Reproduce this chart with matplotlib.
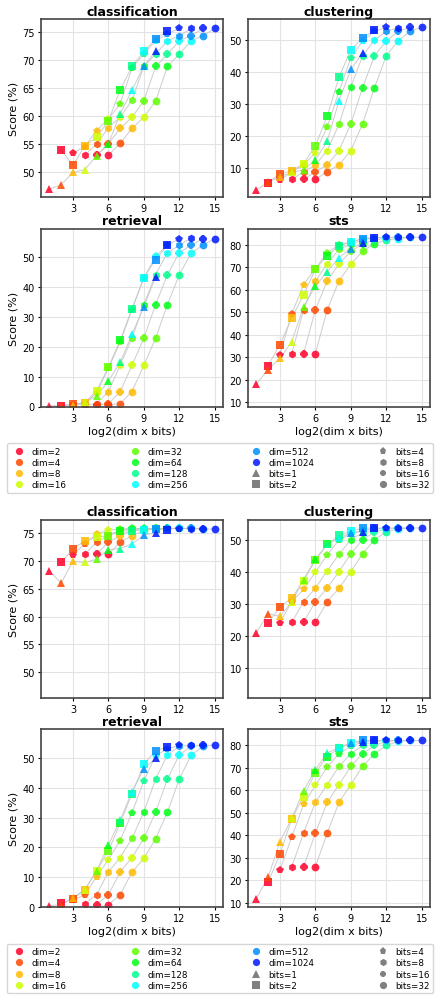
import matplotlib.pyplot as plt
from matplotlib.lines import Line2D
import numpy as np

dims = [2, 4, 8, 16, 32, 64, 128, 256, 512, 1024]
bits = [1, 2, 4, 8, 16, 32]
bit_markers = ['^', 's', 'p', 'h', '8', 'o']
tasks = ['classification', 'clustering', 'retrieval', 'sts']
ylims = {'classification': (45.5, 77.4), 'clustering': (0.8, 56.5),
         'retrieval': (0, 59.7), 'sts': (8.2, 87.3)}

# one row per dim, one column per bits (1, 2, 4, 8, 16, 32)
cls_top = [[46.9, 54.0, 53.4, 53.0, 53.0, 53.0],
           [47.7, 51.2, 54.5, 55.0, 55.0, 55.1],
           [49.9, 54.6, 57.4, 57.9, 57.8, 57.8],
           [50.4, 56.2, 59.5, 59.8, 59.8, 59.8],
           [52.9, 59.1, 62.2, 62.8, 62.7, 62.7],
           [55.0, 64.7, 68.6, 68.9, 68.9, 68.9],
           [60.4, 68.9, 71.1, 71.1, 71.1, 71.1],
           [64.6, 71.6, 73.5, 73.5, 73.5, 73.5],
           [69.0, 73.8, 74.7, 74.4, 74.4, 74.4],
           [71.6, 75.3, 75.8, 75.7, 75.7, 75.7]]
clu_top = [[3.0, 5.3, 6.0, 6.3, 6.3, 6.3],
           [5.4, 8.0, 8.7, 8.7, 8.7, 8.7],
           [7.2, 9.0, 10.8, 10.8, 10.8, 10.8],
           [8.5, 11.2, 14.7, 15.3, 15.3, 15.3],
           [9.3, 16.8, 22.7, 23.5, 23.7, 23.7],
           [12.4, 26.0, 33.8, 35.2, 35.0, 35.0],
           [18.2, 38.3, 44.3, 45.0, 45.0, 45.0],
           [30.9, 46.8, 49.6, 49.9, 49.6, 49.6],
           [40.7, 50.5, 52.6, 52.6, 52.6, 52.6],
           [45.9, 53.0, 53.9, 53.8, 53.9, 54.0]]
ret_top = [[0.2, 0.3, 0.4, 0.5, 0.5, 0.6],
           [0.3, 0.8, 0.9, 0.9, 0.9, 1.0],
           [0.6, 1.2, 4.6, 5.0, 5.0, 5.0],
           [1.5, 5.3, 12.8, 13.8, 13.8, 13.8],
           [3.4, 13.1, 21.5, 22.9, 22.9, 22.9],
           [8.5, 22.2, 32.5, 34.2, 34.2, 34.2],
           [14.8, 32.8, 43.0, 44.2, 44.2, 44.2],
           [24.2, 43.2, 50.5, 51.6, 51.6, 51.4],
           [33.4, 49.3, 54.1, 54.1, 54.1, 54.1],
           [43.5, 54.0, 56.3, 56.5, 56.3, 56.3]]
sts_top = [[18.1, 26.4, 31.0, 31.7, 31.7, 31.7],
           [24.6, 35.7, 49.4, 51.1, 51.1, 51.1],
           [29.6, 47.6, 62.3, 64.0, 64.0, 64.0],
           [37.0, 57.8, 69.5, 71.5, 71.5, 71.5],
           [52.6, 69.2, 76.6, 78.1, 77.2, 77.2],
           [61.6, 75.1, 79.9, 80.2, 80.4, 80.6],
           [68.1, 79.6, 81.3, 82.3, 82.3, 82.2],
           [74.4, 81.3, 82.7, 83.0, 82.9, 82.8],
           [78.4, 82.8, 83.3, 83.4, 83.4, 83.4],
           [81.0, 83.2, 83.4, 83.4, 83.4, 83.4]]

cls_bot = [[68.2, 69.7, 71.1, 71.2, 71.2, 71.2],
           [66.0, 72.1, 73.0, 73.3, 73.3, 73.3],
           [69.9, 73.6, 74.8, 74.6, 74.5, 74.5],
           [69.7, 74.2, 75.5, 75.5, 75.5, 75.5],
           [70.3, 74.5, 75.7, 75.7, 75.7, 75.7],
           [72.0, 75.3, 75.8, 75.8, 75.8, 75.8],
           [72.2, 75.4, 75.8, 75.8, 75.8, 75.8],
           [73.0, 75.5, 75.7, 75.8, 75.8, 75.8],
           [74.6, 75.7, 75.8, 75.8, 75.8, 75.7],
           [75.0, 75.6, 75.7, 75.7, 75.7, 75.7]]
clu_bot = [[21.1, 24.1, 24.2, 24.3, 24.3, 24.3],
           [27.0, 29.1, 30.8, 30.8, 30.8, 30.8],
           [26.2, 31.9, 34.6, 35.0, 35.0, 35.0],
           [30.7, 37.4, 40.0, 40.4, 40.2, 40.2],
           [37.6, 43.7, 45.4, 45.6, 45.8, 45.8],
           [44.1, 48.7, 50.2, 50.2, 50.2, 50.2],
           [48.7, 51.5, 52.0, 52.4, 52.6, 52.6],
           [50.7, 52.8, 53.2, 53.4, 53.5, 53.6],
           [52.3, 53.8, 53.7, 53.8, 53.8, 53.8],
           [52.7, 53.8, 53.9, 53.9, 53.9, 53.9]]
ret_bot = [[0.5, 1.2, 2.3, 1.1, 0.8, 0.8],
           [0.8, 2.8, 4.0, 4.1, 4.1, 4.1],
           [3.0, 5.7, 10.2, 11.7, 11.7, 11.7],
           [5.8, 12.1, 15.8, 16.6, 16.6, 16.3],
           [12.0, 18.8, 22.3, 23.0, 23.0, 22.9],
           [20.8, 28.1, 31.6, 31.8, 31.8, 31.8],
           [29.1, 38.0, 42.3, 42.9, 42.9, 42.9],
           [38.7, 47.9, 50.8, 51.0, 51.0, 50.9],
           [46.3, 52.4, 53.0, 53.9, 53.9, 53.9],
           [50.0, 53.6, 54.2, 54.2, 54.3, 54.4]]
sts_bot = [[11.9, 19.2, 24.6, 26.0, 26.0, 26.0],
           [21.4, 31.7, 39.2, 41.0, 41.0, 41.0],
           [37.1, 47.3, 53.8, 54.7, 54.7, 54.7],
           [47.6, 57.3, 62.2, 62.6, 62.6, 62.6],
           [59.8, 67.9, 70.4, 70.7, 70.7, 70.7],
           [69.2, 75.0, 76.3, 76.3, 76.3, 76.3],
           [76.6, 78.8, 79.7, 80.0, 80.0, 80.0],
           [79.1, 81.2, 81.5, 81.8, 81.8, 81.8],
           [81.0, 82.2, 82.2, 82.2, 82.2, 82.2],
           [81.6, 82.2, 82.2, 82.2, 82.2, 82.2]]

panels_top = [cls_top, clu_top, ret_top, sts_top]
panels_bot = [cls_bot, clu_bot, ret_bot, sts_bot]

colors = plt.cm.gist_rainbow(np.linspace(0, 0.75, len(dims)))

W, H = 440, 1004
fig = plt.figure(figsize=(W / 100, H / 100), dpi=100)


def px_axes(x0, top, w, h):
    return fig.add_axes([x0 / W, 1 - (top + h) / H, w / W, h / H])


def draw_panel(ax, task, scores, left, bottom):
    scores = np.array(scores)
    ld = np.log2(dims)
    lb = np.log2(bits)
    # grey lines joining the same bit width across dims
    for j in range(len(bits)):
        ax.plot(ld + lb[j], scores[:, j], color='#c4c4c4', lw=0.7, alpha=0.85, zorder=1)
    for i in range(len(dims)):
        for j in range(len(bits)):
            ax.plot(ld[i] + lb[j], scores[i, j], marker=bit_markers[j], ms=5.6,
                    color=colors[i], mew=0, alpha=0.85, ls='none', zorder=2)
    ax.set_title(task, fontsize=9, fontweight='bold', pad=3)
    ax.set_xlim(0.3, 15.7)
    ax.set_ylim(*ylims[task])
    ax.set_xticks([3, 6, 9, 12, 15])
    ax.grid(True, color='#e3e3e3', lw=0.8)
    ax.set_axisbelow(True)
    ax.tick_params(labelsize=7, length=2.5, width=0.8, pad=2)
    for s in ax.spines.values():
        s.set_color('#444444')
        s.set_linewidth(1.2)
    if left:
        ax.set_ylabel('Score (%)', fontsize=8, labelpad=3)
    if bottom:
        ax.set_xlabel('log2(dim x bits)', fontsize=8, labelpad=2)


def draw_legend(center_y):
    handles = []
    for i, d in enumerate(dims):
        handles.append(Line2D([], [], marker='o', ls='none', ms=5.2, mew=0,
                              color=colors[i], alpha=0.85, label=f'dim={d}'))
    for j, b in enumerate(bits):
        handles.append(Line2D([], [], marker=bit_markers[j], ls='none', ms=5.2, mew=0,
                              color='gray', label=f'bits={b}'))
    fig.legend(handles=handles, loc='center', ncol=4, mode='expand',
               bbox_to_anchor=(7 / W, 1 - (center_y + 26) / H, 426 / W, 52 / H),
               borderaxespad=0, fontsize=6.3, labelspacing=0.25,
               handletextpad=0.4, frameon=True, edgecolor='#cccccc', fancybox=True)


lefts = [41, 248]
for panels, offset in [(panels_top, 0), (panels_bot, 500.5)]:
    tops = [20 + offset, 229.5 + offset]
    for k, task in enumerate(tasks):
        r, c = divmod(k, 2)
        ax = px_axes(lefts[c], tops[r], 182, 178)
        draw_panel(ax, task, panels[k], c == 0, r == 1)
    draw_legend(469 + offset)

plt.savefig('out.png', dpi=100)
